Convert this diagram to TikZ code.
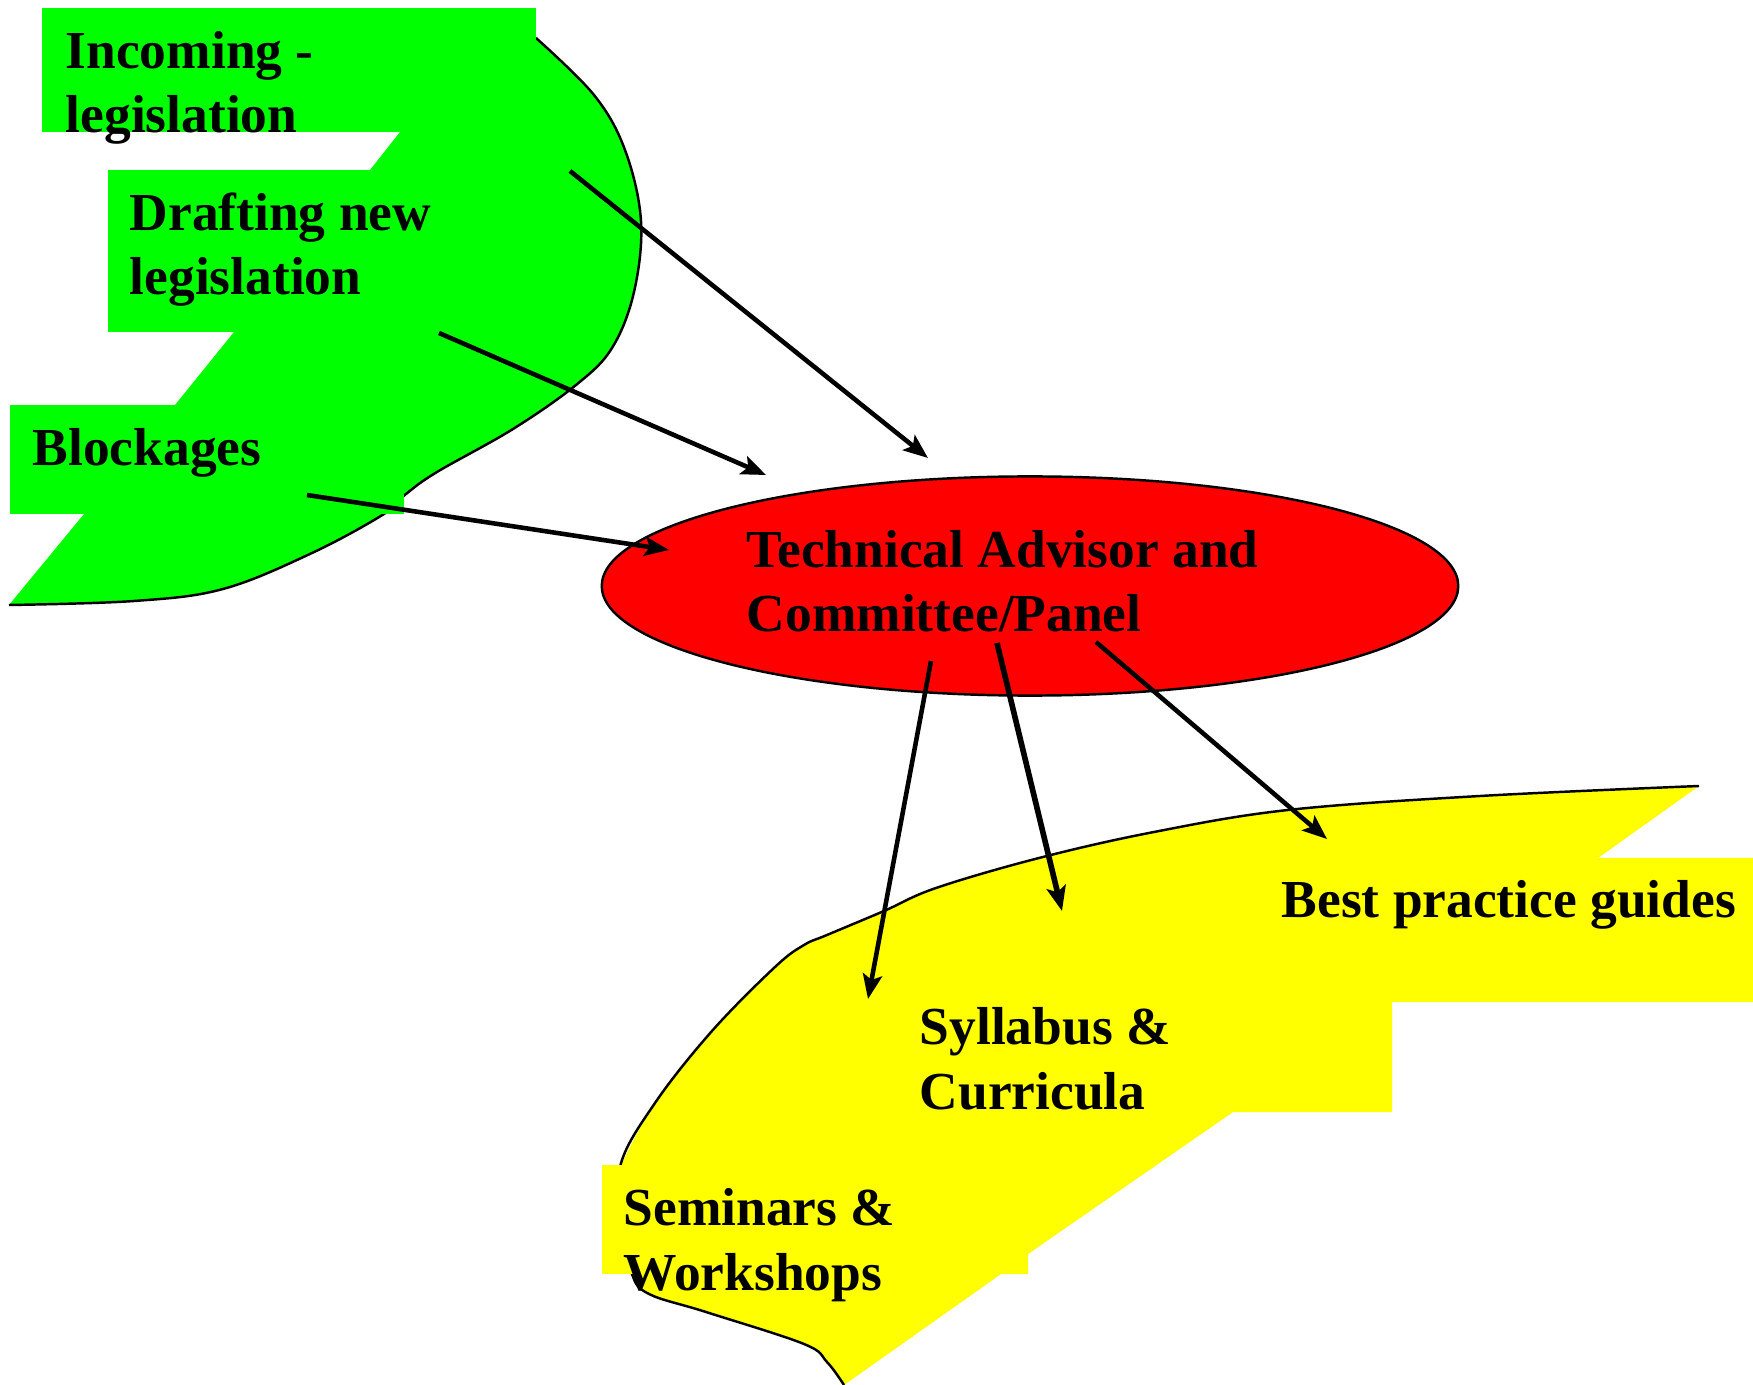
\documentclass[tikz,border=0pt]{standalone}
\usepackage{fontspec}
\setmainfont{Liberation Serif}
\usetikzlibrary{arrows.meta,shapes.geometric}
\definecolor{lgreen}{RGB}{0,255,0}
\definecolor{lyellow}{RGB}{255,255,0}
\definecolor{lred}{RGB}{255,0,0}
\begin{document}
\begin{tikzpicture}[x=0.01cm,y=-0.01cm,
  lbl/.style={anchor=base west, inner sep=0pt, align=left,
    font=\bfseries\fontsize{15.2}{18.2}\selectfont},
  arr/.style={line width=1.3pt, -{Stealth[length=7pt,width=5.5pt,inset=1.5pt]}},
  outl/.style={line width=0.7pt}]
\useasboundingbox (0,0) rectangle (1753,1385);

% ---------- green shape ----------
\fill[lgreen] plot[smooth,tension=0.6] coordinates {(536,38) (594,95) (625,150) (641,221) (634,292) (612,348) (576,385) (513,429) (437,472) (406,494) (384,514) (312,553) (223,589) (134,601) (9,605)}
  -- (84,514) -- (175,405) -- (234,332) -- (370,170) -- (400,132) -- (536,132) -- cycle;
\draw[outl] plot[smooth,tension=0.6] coordinates {(536,38) (594,95) (625,150) (641,221) (634,292) (612,348) (576,385) (513,429) (437,472) (406,494) (384,514) (312,553) (223,589) (134,601) (9,605)};
\fill[lgreen] (42,8) rectangle (536,132);
\fill[lgreen] (108,170) rectangle (500,332);
\fill[lgreen] (10,405) rectangle (404,514);

% ---------- yellow shape ----------
\fill[lyellow] plot[smooth,tension=0.6] coordinates {(1699,786) (1480,796) (1288,810) (1154,832) (1039,858) (936,888) (884,911) (827,935) (804,945) (775,967) (712,1031) (655,1103) (620,1167)}
  -- plot[smooth,tension=0.6] coordinates {(630,1270) (649,1294) (706,1312) (804,1344) (827,1362) (844,1385)}
  -- (1001,1274) -- (1028,1274) -- (1028,1254) -- (1233,1112) -- (1392,1112) -- (1392,1002)
  -- (1753,1002) -- (1753,858) -- (1598,858) -- cycle;
\draw[outl] plot[smooth,tension=0.6] coordinates {(1699,786) (1480,796) (1288,810) (1154,832) (1039,858) (936,888) (884,911) (827,935) (804,945) (775,967) (712,1031) (655,1103) (620,1167) (625,1230) (632,1274) (649,1294) (706,1312) (804,1344) (827,1362) (844,1385)};
\fill[lyellow] (602,1165) rectangle (1028,1274);

% ---------- red ellipse ----------
\node[ellipse, draw, outl, fill=lred, minimum width=8.56cm, minimum height=2.19cm, inner sep=0pt] (tech) at (1030,586) {};

% ---------- labels (base = baseline of last line) ----------
\node[lbl] (inc) at (65,133) {Incoming -\\legislation};
\node[lbl] (draft) at (129,295) {Drafting new\\legislation};
\node[lbl] (block) at (32,466) {Blockages};
\node[lbl] (techtxt) at (746,632) {Technical Advisor and\\Committee/Panel};
\node[lbl] (best) at (1281,918) {Best practice guides};
\node[lbl] (syl) at (919,1109) {Syllabus \&\\Curricula};
\node[lbl] (sem) at (623,1290) {Seminars \&\\Workshops};

% ---------- connector end points ----------
\coordinate (s1) at (570,171);  \coordinate (e1) at (928,458);
\coordinate (s2) at (439,333);  \coordinate (e2) at (766,475);
\coordinate (s3) at (307,495);  \coordinate (e3) at (669,550);
\coordinate (s4) at (931,661);  \coordinate (e4) at (868,999);
\coordinate (s5) at (997,643);  \coordinate (e5) at (1062,911);
\coordinate (s6) at (1096,642); \coordinate (e6) at (1327,839);

\draw[arr] (s1) -- (e1);
\draw[arr] (s2) -- (e2);
\draw[arr] (s3) -- (e3);
\draw[arr] (s4) -- (e4);
\draw[arr, line width=1.6pt] (s5) -- (e5);
\draw[arr] (s6) -- (e6);
\end{tikzpicture}
\end{document}
